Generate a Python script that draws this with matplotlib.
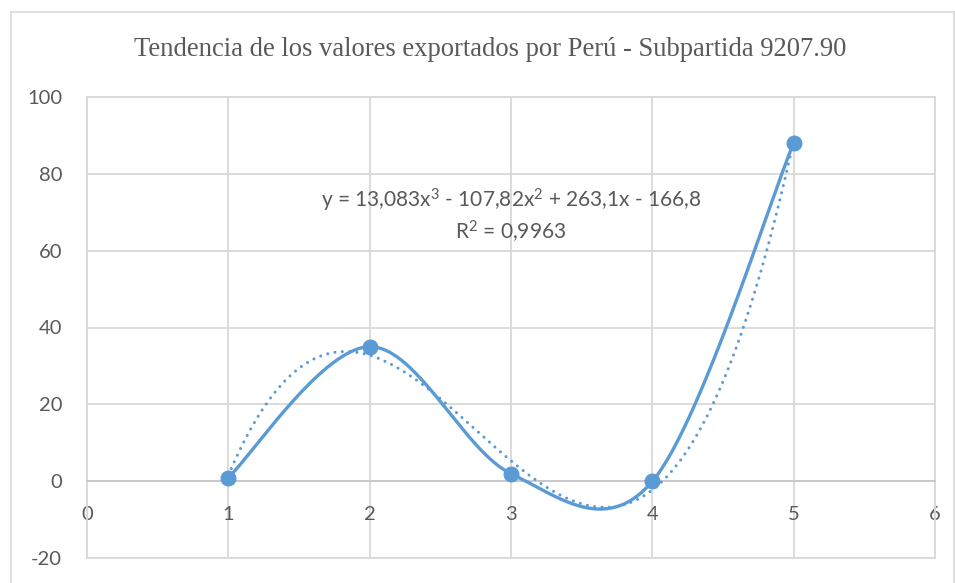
import numpy as np
import matplotlib
matplotlib.use("Agg")
import matplotlib.pyplot as plt
from matplotlib.lines import Line2D

# ---- data ----
x_vals = [1, 2, 3, 4, 5]
y_vals = [1, 35, 2, 0, 88]
title = "Tendencia de los valores exportados por Perú - Subpartida 9207.90"
eq_text = r"y = 13,083x$\mathregular{^3}$ - 107,82x$\mathregular{^2}$ + 263,1x - 166,8"
r2_text = r"R$\mathregular{^2}$ = 0,9963"
x_ticks = [0, 1, 2, 3, 4, 5, 6]
y_ticks = [-20, 0, 20, 40, 60, 80, 100]

BLUE = "#5B9BD5"
GRID = "#D9D9D9"
TXT = "#595959"
SANS = ["Lato", "DejaVu Sans"]
SERIF = ["Liberation Serif", "DejaVu Serif"]

plt.rcParams["axes.unicode_minus"] = False
plt.rcParams["font.family"] = SANS


def smooth_curve(xs, ys, n=60):
    # Excel-like smoothed line: Catmull-Rom style cubic Bezier segments
    P = np.column_stack([xs, ys]).astype(float)
    ext = np.vstack([P[0], P, P[-1]])
    out = []
    t = np.linspace(0, 1, n)[:, None]
    for i in range(len(P) - 1):
        p0, p3 = ext[i + 1], ext[i + 2]
        c1 = p0 + (ext[i + 2] - ext[i]) / 6.0
        c2 = p3 - (ext[i + 3] - ext[i + 1]) / 6.0
        seg = ((1 - t) ** 3) * p0 + 3 * ((1 - t) ** 2) * t * c1 + 3 * (1 - t) * t ** 2 * c2 + t ** 3 * p3
        out.append(seg if i == 0 else seg[1:])
    out = np.vstack(out)
    return out[:, 0], out[:, 1]


W, H = 955, 583
fig = plt.figure(figsize=(W / 100, H / 100), dpi=100)
fig.patch.set_facecolor("white")

# outer chart border
fig.add_artist(Line2D([11 / W, 11 / W], [0, 1 - 12 / H], color=GRID, lw=1.2, transform=fig.transFigure))
fig.add_artist(Line2D([11 / W, 954 / W], [1 - 12 / H, 1 - 12 / H], color=GRID, lw=1.2, transform=fig.transFigure))
fig.add_artist(Line2D([954 / W, 954 / W], [0, 1 - 12 / H], color=GRID, lw=1.2, transform=fig.transFigure))

left, right = 87 / W, 935 / W
top, bottom = 1 - 96.7 / H, 1 - 558.3 / H
ax = fig.add_axes([left, bottom, right - left, top - bottom])
ax.set_xlim(0, 6)
ax.set_ylim(-20, 100)
ax.set_xticks(x_ticks)
ax.set_yticks(y_ticks)
ax.grid(True, color=GRID, lw=1.3)
ax.set_axisbelow(True)

for s in ["left", "right", "top"]:
    ax.spines[s].set_color(GRID)
    ax.spines[s].set_linewidth(1.3)
ax.spines["bottom"].set_position(("data", 0))
ax.spines["bottom"].set_color("#C8C8C8")
ax.spines["bottom"].set_linewidth(1.3)
ax.axhline(-20, color=GRID, lw=1.3, clip_on=False)

ax.tick_params(axis="both", length=0, colors=TXT, labelsize=14.5)
ax.tick_params(axis="y", pad=18)
ax.tick_params(axis="x", pad=18)
for lab in ax.get_xticklabels() + ax.get_yticklabels():
    lab.set_fontfamily(SANS)

# smoothed series line
sx, sy = smooth_curve(x_vals, y_vals)
ax.plot(sx, sy, color=BLUE, lw=2.4, zorder=3, solid_capstyle="round")
ax.plot(x_vals, y_vals, "o", color=BLUE, ms=10.5, zorder=4)

# polynomial (order 3) trendline
coef = np.polyfit(x_vals, y_vals, 3)
tx = np.linspace(min(x_vals), max(x_vals), 400)
ty = np.polyval(coef, tx)
ax.plot(tx, ty, color=BLUE, lw=2.2, linestyle=(0, (0.01, 2.4)),
        dash_capstyle="round", zorder=5)

ax.text(3.0, 73.1, eq_text, ha="center", va="center", fontsize=15,
        color=TXT, family=SANS, zorder=6)
ax.text(3.0, 64.8, r2_text, ha="center", va="center", fontsize=15,
        color=TXT, family=SANS, zorder=6)

fig.text(490.5 / W, 1 - 50 / H, title, ha="center", va="center",
         fontsize=19.2, color=TXT, family=SERIF)

fig.savefig("out.png", dpi=100, facecolor="white")
